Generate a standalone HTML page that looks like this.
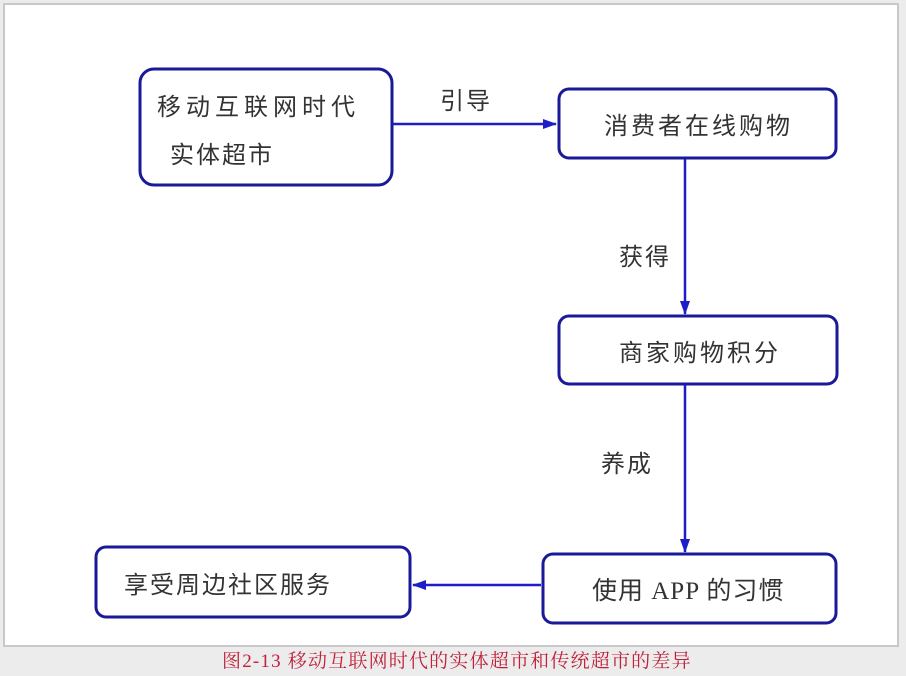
<!DOCTYPE html>
<html><head><meta charset="utf-8"><style>
body{margin:0;width:906px;height:676px;background:#ececec;overflow:hidden;font-family:"Liberation Serif","Noto Serif CJK SC","Noto Sans CJK SC",serif}
</style></head><body>
<svg width="906" height="676" style="position:absolute;left:0;top:0">
<defs><marker id="a" markerWidth="14" markerHeight="10" refX="13" refY="5" orient="auto" markerUnits="userSpaceOnUse"><path d="M0,0 L14,5 L0,10 Z" fill="#1e1ec8"/></marker></defs>
<rect x="4" y="4" width="894" height="642" fill="#fff" stroke="#c8c8c8" stroke-width="2"/>
<g fill="none" stroke="#1a1a99" stroke-width="3">
<rect x="140" y="69" width="252" height="116" rx="14"/>
<rect x="559" y="89" width="277" height="69" rx="10"/>
<rect x="559" y="316" width="278" height="68" rx="10"/>
<rect x="543" y="554" width="293" height="69" rx="10"/>
<rect x="96" y="547" width="314" height="70" rx="10"/>
</g>
<g stroke="#1e1ec8" stroke-width="2.5" fill="none">
<line x1="393" y1="124" x2="556" y2="124" marker-end="url(#a)"/>
<line x1="685" y1="159" x2="685" y2="314" marker-end="url(#a)"/>
<line x1="685" y1="385" x2="685" y2="552" marker-end="url(#a)"/>
<line x1="541" y1="585" x2="413" y2="585" marker-end="url(#a)"/>
</g>
<g font-family="'Noto Sans CJK SC',sans-serif" font-size="24" fill="#333">
<text x="157" y="115" letter-spacing="5">移动互联网时代</text>
<text x="170" y="163" letter-spacing="2">实体超市</text>
<text x="604" y="134" letter-spacing="3">消费者在线购物</text>
<text x="619" y="361" letter-spacing="3">商家购物积分</text>
<text x="124" y="593" letter-spacing="2">享受周边社区服务</text>
<text x="440" y="109" letter-spacing="2">引导</text>
<text x="619" y="265" letter-spacing="2">获得</text>
<text x="601" y="472" letter-spacing="2">养成</text>
</g>
<text x="592" y="599" font-size="25" fill="#333" font-family="'Liberation Serif','Noto Sans CJK SC',serif" letter-spacing="1">使用 APP 的习惯</text>
<text x="222" y="667" font-size="19" fill="#c0203a" font-family="'Liberation Serif','Noto Serif CJK SC',serif" letter-spacing="1.2">图2-13 移动互联网时代的实体超市和传统超市的差异</text>
</svg>
</body></html>
